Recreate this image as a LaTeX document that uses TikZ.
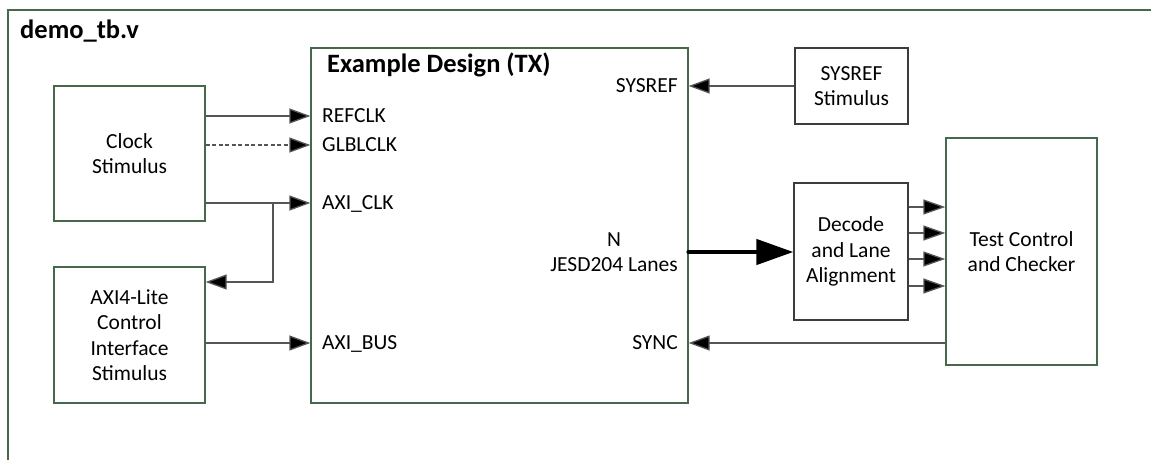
\documentclass[tikz,border=0pt]{standalone}
\usepackage{fontspec}
\setmainfont{Carlito}
\usetikzlibrary{arrows.meta}
\definecolor{framegreen}{RGB}{70,105,75}
\definecolor{darkbox}{RGB}{60,60,60}
\definecolor{wire}{RGB}{85,85,85}
\tikzset{
  gbox/.style={draw=framegreen, line width=1.3pt, minimum width=#1, inner sep=0pt, align=center,
    font=\fontsize{21.5}{25.5}\selectfont},
  dbox/.style={draw=darkbox, line width=1.3pt, minimum width=#1, inner sep=0pt, align=center,
    font=\fontsize{21.5}{25.5}\selectfont},
  port/.style={inner sep=0pt, text depth=0pt, font=\fontsize{21.5}{25}\selectfont},
  ttl/.style={inner sep=0pt, font=\fontsize{26.5}{30}\selectfont\bfseries},
  wirearrow/.style={draw=wire, line width=1.3pt, -{Triangle[length=21pt,width=15pt,fill=black]}},
  smallarrow/.style={draw=wire, line width=1.3pt, -{Triangle[length=22pt,width=15pt,fill=black]}},
  fatarrow/.style={draw=black, line width=4.5pt, line cap=round, -{Triangle[length=37pt,width=25pt,fill=black]}},
}
\begin{document}
\begin{tikzpicture}[x=1pt,y=-1pt]
\useasboundingbox (0,0) rectangle (1151,460);
\fill[white] (0,0) rectangle (1151,460);
% testbench frame
\draw[framegreen, line width=1.3pt] (8,460) -- (8,10) -- (1151,10);
\node[ttl, anchor=base west] (tb) at (20,39) {demo\_tb.v};

% blocks
\node[gbox=151pt, minimum height=135pt] (clk) at (129.5,153.5) {Clock\\Stimulus};
\node[gbox=151pt, minimum height=136pt] (axi) at (129.5,335) {AXI4-Lite\\Control\\Interface\\Stimulus};
\node[gbox=377pt, minimum height=355pt] (ex) at (499.5,225.5) {};
\node[ttl, anchor=base west] (extitle) at (327,73) {Example Design (TX)};
\node[dbox=113pt, minimum height=76pt] (sys) at (851.5,86) {SYSREF\\Stimulus};
\node[dbox=114pt, minimum height=137pt] (dec) at (851,251.5) {Decode\\and Lane\\Alignment};
\node[gbox=151pt, minimum height=227pt] (tc) at (1021.5,251.5) {Test Control\\and Checker};

% port labels
\node[port, anchor=west] (pref) at (322,116) {REFCLK};
\node[port, anchor=west] (pglb) at (322,145) {GLBLCLK};
\node[port, anchor=west] (paxc) at (322,203) {AXI\_CLK};
\node[port, anchor=west] (paxb) at (322,343) {AXI\_BUS};
\node[port, anchor=east] (psys) at (678,86) {SYSREF};
\node[port, anchor=east] (psync) at (678,343) {SYNC};
\node[port, anchor=east, align=center, font=\fontsize{21.5}{25.5}\selectfont] (plane) at (678,252) {N\\JESD204 Lanes};

% connectors
\draw[wirearrow] (clk.east |- pref.west) -- (ex.west |- pref.west);
\draw[wirearrow, dash pattern=on 4pt off 2.5pt] (clk.east |- pglb.west) -- (ex.west |- pglb.west);
\draw[wirearrow] (clk.east |- paxc.west) -- (ex.west |- paxc.west);
\coordinate (br) at (273,203);
\coordinate (brd) at (273,282);
\draw[wirearrow] (br) -- (brd) -- (axi.east |- brd);
\draw[wirearrow] (axi.east |- paxb.west) -- (ex.west |- paxb.west);
\draw[wirearrow] (sys.west |- psys.east) -- (ex.east |- psys.east);
\draw[wirearrow] (tc.west |- psync.east) -- (ex.east |- psync.east);
\draw[fatarrow] (ex.east |- plane.east) -- (dec.west |- plane.east);
\foreach \yy/\nm in {207/a,233/b,259/c,286/d}{
  \coordinate (lane\nm) at (908,\yy);
  \draw[smallarrow] (dec.east |- lane\nm) -- (tc.west |- lane\nm);
}
\end{tikzpicture}
\end{document}
